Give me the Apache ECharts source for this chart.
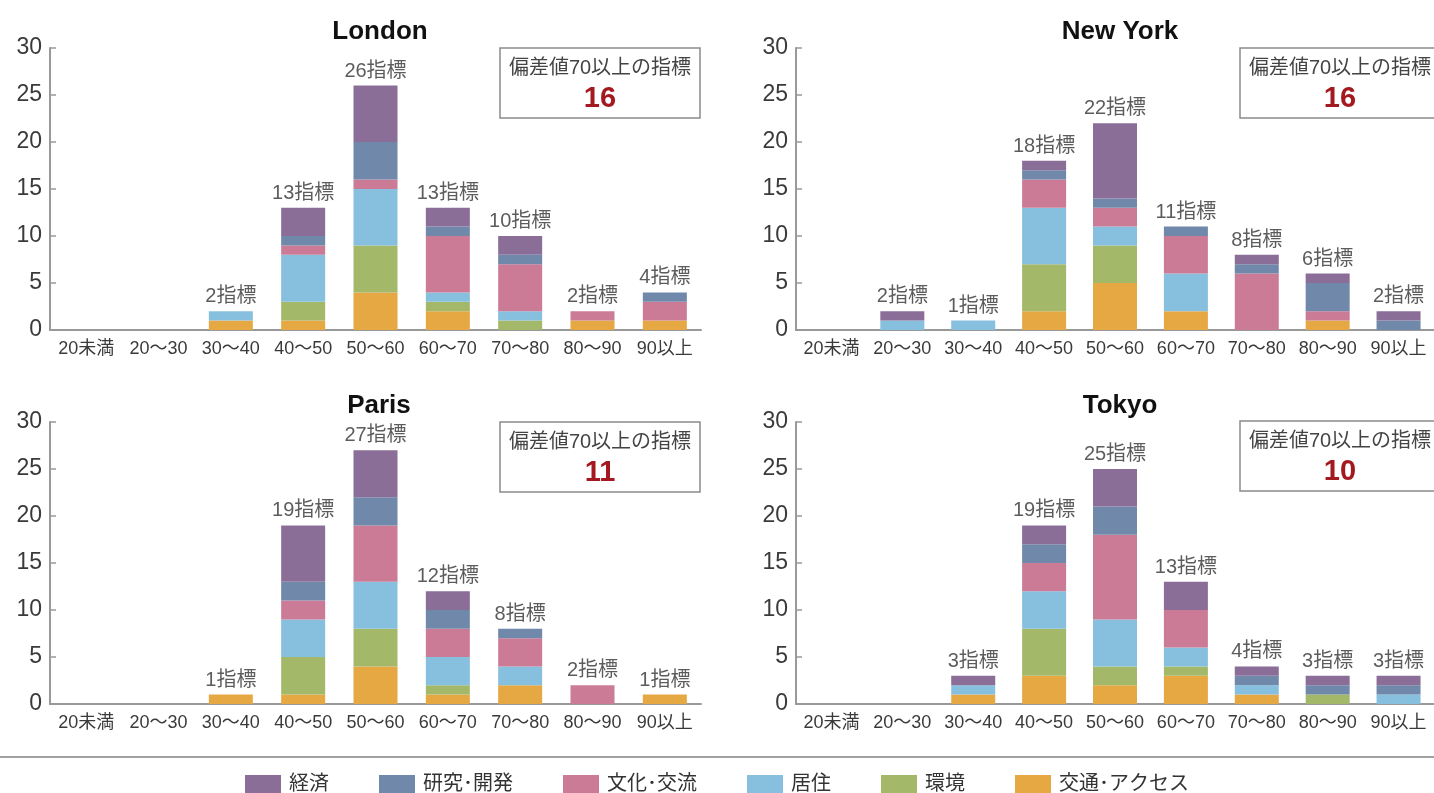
<!DOCTYPE html>
<html>
<head>
<meta charset="utf-8">
<script src="https://cdn.jsdelivr.net/npm/echarts@6/dist/echarts.min.js"></script>
<style>
html,body{margin:0;padding:0;background:#fff;}
#c{width:1434px;height:793px;}
</style>
</head>
<body>
<div id="c"></div>
<script>
// ---- Data ----
const categories = ['20未満','20〜30','30〜40','40〜50','50〜60','60〜70','70〜80','80〜90','90以上'];
const cities = ['London','New York','Paris','Tokyo'];
const seriesNames = ['経済','研究･開発','文化･交流','居住','環境','交通･アクセス'];
const seriesColors = ['#8a6e98','#7088aa','#cc7b96','#87bfdf','#a4b86a','#e6a843'];
const boxLabel = '偏差値70以上の指標';
const totalSuffix = '指標';
const highCategories = ['70〜80','80〜90','90以上'];

// London
const londonKeizai = [0,0,0,3,6,2,2,0,0];
const londonKenkyu = [0,0,0,1,4,1,1,0,1];
const londonBunka  = [0,0,0,1,1,6,5,1,2];
const londonKyoju  = [0,0,1,5,6,1,1,0,0];
const londonKankyo = [0,0,0,2,5,1,1,0,0];
const londonKotsu  = [0,0,1,1,4,2,0,1,1];
// New York
const nyKeizai = [0,1,0,1,8,0,1,1,1];
const nyKenkyu = [0,0,0,1,1,1,1,3,1];
const nyBunka  = [0,0,0,3,2,4,6,1,0];
const nyKyoju  = [0,1,1,6,2,4,0,0,0];
const nyKankyo = [0,0,0,5,4,0,0,0,0];
const nyKotsu  = [0,0,0,2,5,2,0,1,0];
// Paris
const parisKeizai = [0,0,0,6,5,2,0,0,0];
const parisKenkyu = [0,0,0,2,3,2,1,0,0];
const parisBunka  = [0,0,0,2,6,3,3,2,0];
const parisKyoju  = [0,0,0,4,5,3,2,0,0];
const parisKankyo = [0,0,0,4,4,1,0,0,0];
const parisKotsu  = [0,0,1,1,4,1,2,0,1];
// Tokyo
const tokyoKeizai = [0,0,1,2,4,3,1,1,1];
const tokyoKenkyu = [0,0,0,2,3,0,1,1,1];
const tokyoBunka  = [0,0,0,3,9,4,0,0,0];
const tokyoKyoju  = [0,0,1,4,5,2,1,0,1];
const tokyoKankyo = [0,0,0,5,2,1,0,1,0];
const tokyoKotsu  = [0,0,1,3,2,3,1,0,0];

const yTicks = [0,5,10,15,20,25,30];

const cityData = [
  [londonKeizai, londonKenkyu, londonBunka, londonKyoju, londonKankyo, londonKotsu],
  [nyKeizai, nyKenkyu, nyBunka, nyKyoju, nyKankyo, nyKotsu],
  [parisKeizai, parisKenkyu, parisBunka, parisKyoju, parisKankyo, parisKotsu],
  [tokyoKeizai, tokyoKenkyu, tokyoBunka, tokyoKyoju, tokyoKankyo, tokyoKotsu]
];

// ---- Layout ----
const FONT = "'Liberation Sans', 'Noto Sans CJK JP', sans-serif";
const grids = [
  {left:50,  top:48,  width:651, height:282},
  {left:796, top:48,  width:651, height:282},
  {left:50,  top:422, width:651, height:282},
  {left:796, top:422, width:651, height:282}
];
const titleCenters = [375, 1115, 374, 1115];
const boxes = [
  {x:500, y:48, w:200, h:70},
  {x:1240, y:48, w:200, h:70},
  {x:500, y:422, w:200, h:70},
  {x:1240, y:421, w:200, h:70}
];

const totals = cityData.map(d => categories.map((_, i) => d.reduce((s, arr) => s + arr[i], 0)));
const highCounts = totals.map(t => highCategories.reduce((s, c) => s + t[categories.indexOf(c)], 0));

const xAxis = [], yAxis = [], series = [], titles = [], graphics = [];
grids.forEach((g, p) => {
  xAxis.push({
    type:'category', gridIndex:p, data:categories,
    axisLine:{lineStyle:{color:'#999', width:2}},
    axisTick:{inside:true, length:6, lineStyle:{color:'#999', width:1.5}},
    axisLabel:{color:'#3a3a3a', fontSize:18, fontFamily:FONT, margin:10, interval:0}
  });
  yAxis.push({
    type:'value', gridIndex:p, min:0, max:30, interval:5,
    splitLine:{show:false},
    axisLine:{show:true, lineStyle:{color:'#999', width:2}},
    axisTick:{show:true, inside:true, length:6, lineStyle:{color:'#999', width:1.5}},
    axisLabel:{color:'#3a3a3a', fontSize:23, fontFamily:FONT, margin:8,
      formatter: v => yTicks.includes(v) ? String(v) : ''}
  });
  // bottom-to-top stacking order
  for (let k = seriesNames.length - 1; k >= 0; k--) {
    series.push({
      name: seriesNames[k], type:'bar', stack:'s'+p,
      xAxisIndex:p, yAxisIndex:p, barWidth:44,
      itemStyle:{color:seriesColors[k]},
      data: cityData[p][k], silent:true
    });
  }
  series.push({
    type:'scatter', xAxisIndex:p, yAxisIndex:p, symbolSize:1,
    itemStyle:{color:'rgba(0,0,0,0)'}, silent:true,
    data: totals[p],
    label:{show:true, position:'top', distance:4, color:'#333', fontSize:20, fontFamily:FONT,
      formatter: prm => prm.value > 0 ? prm.value + totalSuffix : ''}
  });
  titles.push({
    text: cities[p], left: titleCenters[p], top: g.top - 34, textAlign:'center',
    textStyle:{fontSize:26, fontWeight:'bold', color:'#111', fontFamily:FONT}
  });
  const b = boxes[p];
  graphics.push({
    type:'rect', shape:{x:b.x, y:b.y, width:b.w, height:b.h},
    style:{fill:'#fff', stroke:'#8a8a8a', lineWidth:1.5}, z:10
  });
  graphics.push({
    type:'text', x:b.x + b.w/2, y:b.y + 20, z:11,
    style:{text:boxLabel, fill:'#444', font:'20px ' + FONT, textAlign:'center', textVerticalAlign:'middle'}
  });
  graphics.push({
    type:'text', x:b.x + b.w/2, y:b.y + 51, z:11,
    style:{text:String(highCounts[p]), fill:'#a3191f', font:'bold 29px ' + FONT, textAlign:'center', textVerticalAlign:'middle'}
  });
});

graphics.push({
  type:'line', shape:{x1:0, y1:757, x2:1434, y2:757},
  style:{stroke:'#a0a0a0', lineWidth:2}
});

const chart = echarts.init(document.getElementById('c'), null, {renderer:'canvas'});
chart.setOption({
  animation:false,
  backgroundColor:'#fff',
  title: titles,
  grid: grids,
  xAxis: xAxis,
  yAxis: yAxis,
  legend:{
    data: seriesNames, left:'center', top:769, icon:'rect',
    itemWidth:36, itemHeight:18, itemGap:50, selectedMode:false,
    textStyle:{fontSize:20, color:'#333', fontFamily:FONT, padding:[0,0,0,3]}
  },
  graphic: graphics,
  series: series
});
</script>
</body>
</html>
